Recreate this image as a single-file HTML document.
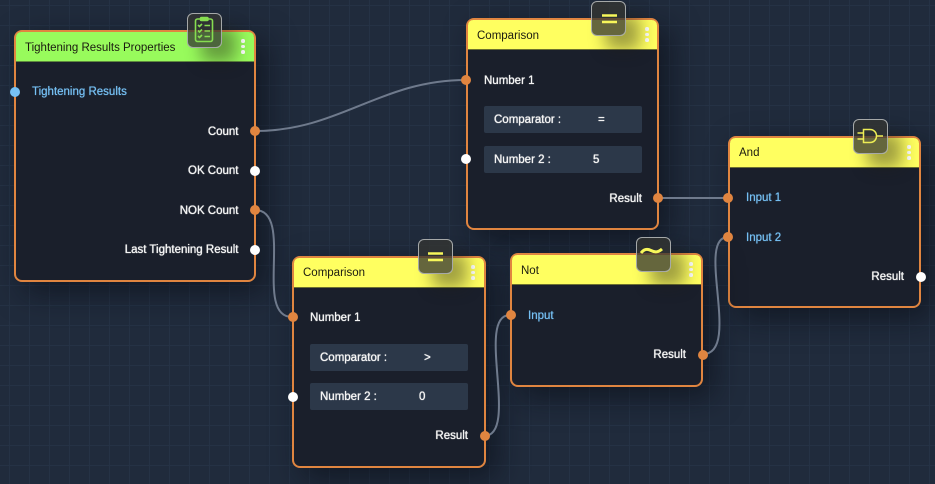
<!DOCTYPE html>
<html><head><meta charset="utf-8">
<style>
html,body{margin:0;padding:0;width:935px;height:484px;overflow:hidden;background:#202b3c}
body{position:relative;font-family:"Liberation Sans",sans-serif;font-size:11.5px;
background-color:#202b3c;
background-image:linear-gradient(to right,#253245 1px,transparent 1px),linear-gradient(to bottom,#253245 1px,transparent 1px);
background-size:20px 20px,20px 20px;background-position:9px 0,0 5px}
.n{position:absolute;box-sizing:border-box;background:#1a1f2b;border:2px solid #e08540;border-radius:8px;box-shadow:10px 10px 30px rgba(8,12,20,.6)}
.h{position:absolute;left:0;right:0;top:0;height:30px;background:#ffff60;border-radius:5px 5px 0 0;border-bottom:1px solid #6d7030;box-sizing:border-box;color:#1b1b10;line-height:31px;padding-left:9px}
.g{background:#98fb5c;border-bottom-color:#5f8a3e}
.d{position:absolute;width:3.5px;height:3.5px;border-radius:50%;background:#fff}
.t{position:absolute;white-space:nowrap;line-height:14px;margin-top:1px;color:#f4f4f4;text-shadow:0 0 .8px #f4f4f4,0 0 .4px #f4f4f4}
.b{color:#76c1f5;text-shadow:0 0 .7px #76c1f5}
.f{position:absolute;width:158px;height:27px;background:#2c3849;border-radius:2px}
.i{position:absolute;width:35px;height:35px;box-sizing:border-box;border:1.5px solid #a5a8a8;border-radius:6px;background:rgba(52,54,50,.76);box-shadow:14px 14px 16px rgba(30,30,20,.42)}
.p{position:absolute;width:10px;height:10px;border-radius:50%;background:#e08540}
.w{background:#fff}.c{background:#76c1f5}
svg{position:absolute;left:0;top:0}
</style></head><body>
<div class="n" style="left:14px;top:30px;width:242px;height:252px"><div class="h g" style="line-height:33px">Tightening Results Properties</div>
<div class="d" style="left:225px;top:7px"></div><div class="d" style="left:225px;top:12.500px"></div><div class="d" style="left:225px;top:18px"></div></div>
<div class="n" style="left:466px;top:18px;width:193px;height:212px"><div class="h" style="line-height:33px">Comparison</div>
<div class="d" style="left:177px;top:7px"></div><div class="d" style="left:177px;top:12.500px"></div><div class="d" style="left:177px;top:18px"></div></div>
<div class="n" style="left:728px;top:136px;width:193px;height:172px"><div class="h">And</div>
<div class="d" style="left:177px;top:7px"></div><div class="d" style="left:177px;top:12.500px"></div><div class="d" style="left:177px;top:18px"></div></div>
<div class="n" style="left:292px;top:256px;width:194px;height:212px"><div class="h">Comparison</div>
<div class="d" style="left:177px;top:7px"></div><div class="d" style="left:177px;top:12.500px"></div><div class="d" style="left:177px;top:18px"></div></div>
<div class="n" style="left:510px;top:253px;width:193px;height:134px"><div class="h" style="line-height:33px">Not</div>
<div class="d" style="left:177px;top:7px"></div><div class="d" style="left:177px;top:12.500px"></div><div class="d" style="left:177px;top:18px"></div></div>

<svg width="935" height="484" fill="none" stroke="#6f7a8c" stroke-width="2">
<path d="M255 131C340 131 380 80 466 80"/>
<path d="M255 210C295 210 253 317 292 317"/>
<path d="M658 198L728 198"/>
<path d="M484 436C520 436 475 315 510 315"/>
<path d="M703 354C742 354 695 237 728 237"/>
</svg>

<div class="f" style="left:484px;top:106px"></div><div class="f" style="left:484px;top:146px"></div>
<div class="f" style="left:310px;top:344px"></div><div class="f" style="left:310px;top:383px"></div>

<div class="t b" style="left:32px;top:84px">Tightening Results</div>
<div class="t" style="right:696.500px;top:124px">Count</div>
<div class="t" style="right:696.500px;top:163px">OK Count</div>
<div class="t" style="right:696.500px;top:203px">NOK Count</div>
<div class="t" style="right:696.500px;top:242px">Last Tightening Result</div>

<div class="t" style="left:484px;top:73px">Number 1</div>
<div class="t" style="left:494px;top:112px">Comparator :</div>
<div class="t" style="left:598px;top:112px">=</div>
<div class="t" style="left:494px;top:152px">Number 2 :</div>
<div class="t" style="left:593px;top:152px">5</div>
<div class="t" style="right:293px;top:191px">Result</div>

<div class="t b" style="left:746px;top:190px">Input 1</div>
<div class="t b" style="left:746px;top:230px">Input 2</div>
<div class="t" style="right:31px;top:269px">Result</div>

<div class="t" style="left:310px;top:310px">Number 1</div>
<div class="t" style="left:320px;top:350px">Comparator :</div>
<div class="t" style="left:424px;top:350px">&gt;</div>
<div class="t" style="left:320px;top:389px">Number 2 :</div>
<div class="t" style="left:419px;top:389px">0</div>
<div class="t" style="right:467px;top:428px">Result</div>

<div class="t b" style="left:528px;top:308px">Input</div>
<div class="t" style="right:249px;top:347px">Result</div>

<div class="p c" style="left:10px;top:87px"></div>
<div class="p" style="left:250px;top:126px"></div>
<div class="p w" style="left:250px;top:166px"></div>
<div class="p" style="left:250px;top:205px"></div>
<div class="p w" style="left:250px;top:245px"></div>
<div class="p" style="left:461px;top:75px"></div>
<div class="p w" style="left:461px;top:154px"></div>
<div class="p" style="left:653px;top:193px"></div>
<div class="p" style="left:723px;top:193px"></div>
<div class="p" style="left:723px;top:232px"></div>
<div class="p w" style="left:916px;top:272px"></div>
<div class="p" style="left:288px;top:312px"></div>
<div class="p w" style="left:288px;top:392px"></div>
<div class="p" style="left:480px;top:431px"></div>
<div class="p" style="left:506px;top:310px"></div>
<div class="p" style="left:698px;top:350px"></div>

<div class="i" style="left:187px;top:13px"><svg width="32" height="32" fill="none" stroke="#86dd50" stroke-width="1.600">
<rect x="7.500" y="5" width="17" height="22.500" rx="2"/><rect x="12.500" y="3.500" width="7.500" height="3" rx="1" fill="#86dd50"/>
<path d="M10 11l1.500 1.500 2.500-2.500M10 16.500l1.500 1.500 2.500-2.500M10 22l1.500 1.500 2.500-2.500M16.500 11.500h5.500M16.500 17h5.500M16.500 22.500h5.500"/></svg></div>
<div class="i" style="left:591px;top:1px"><svg width="32" height="32" stroke="#f7f75a" stroke-width="2.600"><path d="M10 13.500h15M10 20h15"/></svg></div>
<div class="i" style="left:418px;top:239px"><svg width="32" height="32" stroke="#f7f75a" stroke-width="2.600"><path d="M9 13.500h15M9 20h15"/></svg></div>
<div class="i" style="left:636px;top:237px"><svg width="32" height="32" fill="none" stroke="#f7f75a" stroke-width="3"><path d="M4 15c3-4 6-4.500 10-2.500s7 2 11-1.500"/></svg></div>
<div class="i" style="left:853px;top:119px"><svg width="32" height="32" fill="none" stroke="#eded55" stroke-width="1.500"><path d="M9.500 9.500h6.500c4 0 6.500 3 6.500 6.500s-2.500 6.500-6.500 6.500h-6.500zM3.500 13h6M3.500 19h6M22.500 16h6.500"/></svg></div>
</body></html>
